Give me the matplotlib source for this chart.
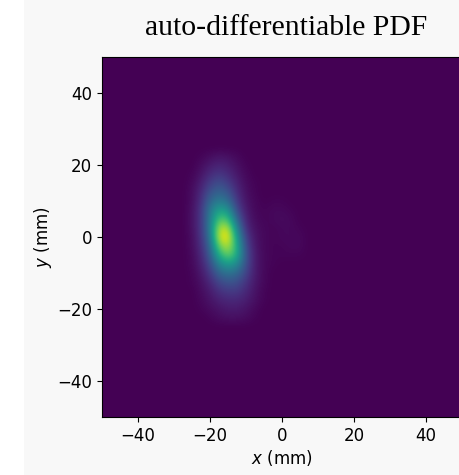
import numpy as np
import matplotlib
matplotlib.use("Agg")
import matplotlib.pyplot as plt
from matplotlib.patches import Rectangle

# density on a 2.5 mm grid (cell centres), normalised to the peak
x_centres = [-27.5, -25, -22.5, -20, -17.5, -15, -12.5, -10, -7.5, -5, -2.5, 0, 2.5, 5]
y_centres = [22.5, 20, 17.5, 15, 12.5, 10, 7.5, 5, 2.5, 0, -2.5, -5, -7.5,
             -10, -12.5, -15, -17.5, -20, -22.5]
density = [
    [0, 0, 0.01, 0.03, 0.05, 0.04, 0.02, 0, 0, 0, 0, 0, 0, 0],
    [0, 0, 0.03, 0.07, 0.10, 0.08, 0.04, 0.01, 0, 0, 0, 0, 0, 0],
    [0, 0.01, 0.05, 0.12, 0.16, 0.12, 0.06, 0.02, 0, 0, 0, 0, 0, 0],
    [0, 0.02, 0.08, 0.18, 0.24, 0.18, 0.09, 0.03, 0.01, 0, 0, 0, 0, 0],
    [0, 0.03, 0.11, 0.25, 0.32, 0.26, 0.12, 0.04, 0.01, 0, 0, 0, 0, 0],
    [0, 0.03, 0.13, 0.33, 0.42, 0.36, 0.16, 0.05, 0.02, 0, 0.01, 0.01, 0, 0],
    [0, 0.04, 0.15, 0.40, 0.58, 0.52, 0.22, 0.07, 0.02, 0.01, 0.02, 0.02, 0.01, 0],
    [0, 0.04, 0.15, 0.42, 0.72, 0.70, 0.32, 0.09, 0.03, 0.01, 0.02, 0.03, 0.02, 0],
    [0, 0.04, 0.15, 0.42, 0.88, 0.90, 0.45, 0.12, 0.04, 0.02, 0.01, 0.02, 0.02, 0.01],
    [0, 0.03, 0.14, 0.38, 0.92, 1.00, 0.55, 0.18, 0.05, 0.02, 0.01, 0.02, 0.02, 0.02],
    [0, 0.03, 0.12, 0.33, 0.78, 0.90, 0.62, 0.22, 0.06, 0.02, 0.01, 0.01, 0.02, 0.02],
    [0, 0.02, 0.10, 0.28, 0.62, 0.78, 0.62, 0.25, 0.07, 0.02, 0.01, 0.01, 0.01, 0.01],
    [0, 0.02, 0.08, 0.22, 0.45, 0.55, 0.48, 0.24, 0.07, 0.02, 0.01, 0, 0, 0],
    [0, 0.01, 0.06, 0.16, 0.32, 0.38, 0.34, 0.20, 0.07, 0.02, 0, 0, 0, 0],
    [0, 0.01, 0.04, 0.11, 0.21, 0.26, 0.24, 0.15, 0.06, 0.02, 0, 0, 0, 0],
    [0, 0, 0.03, 0.07, 0.14, 0.17, 0.17, 0.11, 0.05, 0.01, 0, 0, 0, 0],
    [0, 0, 0.02, 0.05, 0.09, 0.11, 0.11, 0.08, 0.04, 0.01, 0, 0, 0, 0],
    [0, 0, 0.01, 0.03, 0.05, 0.07, 0.07, 0.05, 0.02, 0, 0, 0, 0, 0],
    [0, 0, 0, 0.01, 0.03, 0.04, 0.04, 0.03, 0.01, 0, 0, 0, 0, 0],
]
ticks = [-40, -20, 0, 20, 40]

# place the patch into a full grid whose cell centres sit on -50, -47.5, ..., 50
step = 2.5
n = 41
grid = np.zeros((n, n))
for i, yc in enumerate(y_centres):
    r = int(round((50 - yc) / step))
    for j, xc in enumerate(x_centres):
        c = int(round((xc + 50) / step))
        grid[r, c] = density[i][j]

fig = plt.figure(figsize=(4.59, 4.75), dpi=100, facecolor="#f8f8f8")
fig.patches.append(Rectangle((0, 0), 24 / 459, 1, transform=fig.transFigure,
                             facecolor="white", edgecolor="none", zorder=0))

ax = fig.add_axes([102 / 459, 58 / 475, 360 / 459, 360 / 475])
half = step / 2
ax.imshow(grid, cmap="viridis", vmin=0, vmax=1,
          extent=[-50 - half, 50 + half, -50 - half, 50 + half],
          origin="upper", interpolation="bicubic", aspect="auto")
ax.set_xlim(-50, 50)
ax.set_ylim(-50, 50)
ax.set_xticks(ticks)
ax.set_yticks(ticks)
ax.tick_params(labelsize=12)
ax.set_xlabel("$x$ (mm)", fontsize=12, labelpad=2)
ax.set_ylabel("$y$ (mm)", fontsize=12, labelpad=2)

fig.text(286 / 459, 1 - 35 / 475, "auto-differentiable PDF", ha="center",
         va="baseline", fontsize=21.3, family="Liberation Serif")

fig.savefig("out.png", dpi=100, facecolor=fig.get_facecolor())
